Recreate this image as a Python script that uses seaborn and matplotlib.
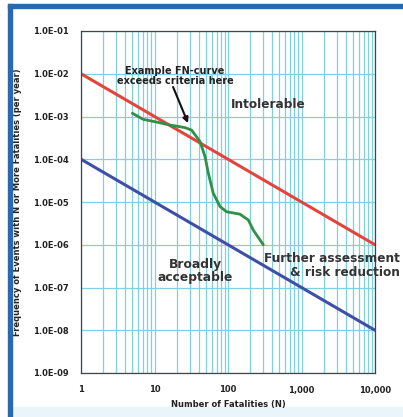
import numpy as np
import pandas as pd
import seaborn as sns
import matplotlib
matplotlib.use("Agg")
import matplotlib.pyplot as plt
from matplotlib.ticker import FixedLocator, LogLocator, NullFormatter
from matplotlib.patches import Rectangle

# Criteria lines (N, frequency)
crit_n = [1, 10000]
intolerable_f = [1e-2, 1e-6]
acceptable_f = [1e-4, 1e-8]

# Example FN-curve
fn_n = [5.0, 7.0, 10.7, 16.3, 26, 32, 41.6, 48.7, 54, 63, 78, 96, 145, 189, 221, 302]
fn_f = [1.19e-3, 8.6e-4, 7.4e-4, 6.3e-4, 5.5e-4, 4.8e-4, 2.6e-4, 1.15e-4,
        4.7e-5, 1.6e-5, 7.8e-6, 5.9e-6, 5.2e-6, 3.8e-6, 2.2e-6, 1.0e-6]

x_ticks = [1, 10, 100, 1000, 10000]
x_tick_labels = ["1", "10", "100", "1,000", "10,000"]
y_ticks = [1e-9, 1e-8, 1e-7, 1e-6, 1e-5, 1e-4, 1e-3, 1e-2, 1e-1]
y_tick_labels = ["1.0E-09", "1.0E-08", "1.0E-07", "1.0E-06", "1.0E-05",
                 "1.0E-04", "1.0E-03", "1.0E-02", "1.0E-01"]

sns.set_style("white")
plt.rcParams['font.family'] = ['DejaVu Sans']

W, H = 403, 417
fig = plt.figure(figsize=(W / 100, H / 100), dpi=100)
fig.patch.set_facecolor("white")
ax = fig.add_axes([81 / W, 1 - 373 / H, (375 - 81) / W, (373 - 31) / H])
ax.set_facecolor("white")

grid_c = "#7fd0e2"
ax.set_xscale("log")
ax.set_yscale("log")

df_int = pd.DataFrame({"N": crit_n, "F": intolerable_f})
df_acc = pd.DataFrame({"N": crit_n, "F": acceptable_f})
df_fn = pd.DataFrame({"N": fn_n, "F": fn_f})
sns.lineplot(data=df_int, x="N", y="F", ax=ax, color="#e5443d", lw=2.2)
sns.lineplot(data=df_acc, x="N", y="F", ax=ax, color="#3d4fa6", lw=2.2)
sns.lineplot(data=df_fn, x="N", y="F", ax=ax, color="#2f9148", lw=2.0, sort=False)

ax.set_xlim(1, 10000)
ax.set_ylim(1e-9, 1e-1)
ax.xaxis.set_major_locator(FixedLocator(x_ticks))
ax.xaxis.set_minor_locator(LogLocator(base=10, subs=np.arange(2, 10)))
ax.xaxis.set_minor_formatter(NullFormatter())
ax.yaxis.set_major_locator(FixedLocator(y_ticks))
ax.yaxis.set_minor_locator(FixedLocator([]))
ax.set_xticklabels(x_tick_labels)
ax.set_yticklabels(y_tick_labels)
ax.grid(True, which="major", axis="both", color=grid_c, lw=0.9)
ax.grid(True, which="minor", axis="x", color=grid_c, lw=0.9)
ax.set_axisbelow(True)

ax.tick_params(axis="both", which="major", length=5, width=0.8, color="#333333",
               labelsize=6, labelcolor="#222222", direction="out", pad=4)
ax.tick_params(axis="x", which="minor", length=0)
for lab in ax.get_xticklabels() + ax.get_yticklabels():
    lab.set_fontweight("bold")

for s in ax.spines.values():
    s.set_color("#444444")
    s.set_linewidth(0.9)

ax.set_xlabel("Number of Fatalities (N)", fontsize=6, fontweight="bold", color="#222222")
ax.set_ylabel("Frequency of Events with N or More Fatalities (per year)", fontsize=6,
              fontweight="bold", color="#222222")
ax.xaxis.set_label_coords((228 - 81) / (375 - 81), -(400 - 373) / (373 - 31))
ax.yaxis.set_label_coords(-(81 - 22) / (375 - 81), 0.5)

# annotations
ax.text(19, 8.9e-3, "Example FN-curve\nexceeds criteria here", ha="center", va="center",
        fontsize=7, fontweight="bold", color="#222222", linespacing=1.05)
ax.annotate("", xy=(28.6, 7.0e-4), xytext=(17.9, 4.9e-3),
            arrowprops=dict(arrowstyle="-|>", color="#111111", lw=1.5, mutation_scale=8,
                            shrinkA=0, shrinkB=0))
ax.text(350, 1.86e-3, "Intolerable", ha="center", va="center", fontsize=8.7,
        fontweight="bold", color="#333333")
ax.text(35.6, 2.43e-7, "Broadly\nacceptable", ha="center", va="center", fontsize=8.8,
        fontweight="bold", color="#333333", linespacing=1.05)
fig.text(400 / W, 1 - 266 / H, "Further assessment\n& risk reduction", ha="right", va="center",
         fontsize=8.7, fontweight="bold", color="#333333", linespacing=1.1)

# panel frame
fig.patches.append(Rectangle((12 / W, 0), 1, 10 / H, transform=fig.transFigure,
                             color="#eaf5fb", zorder=-5))
fig.patches.append(Rectangle((8 / W, 0), 4 / W, 1 - 4 / H, transform=fig.transFigure,
                             color="#2a68b0", zorder=5))
fig.patches.append(Rectangle((8 / W, 1 - 8 / H), 1, 4 / H, transform=fig.transFigure,
                             color="#2a68b0", zorder=5))

fig.savefig("out.png", dpi=100, facecolor="white")
